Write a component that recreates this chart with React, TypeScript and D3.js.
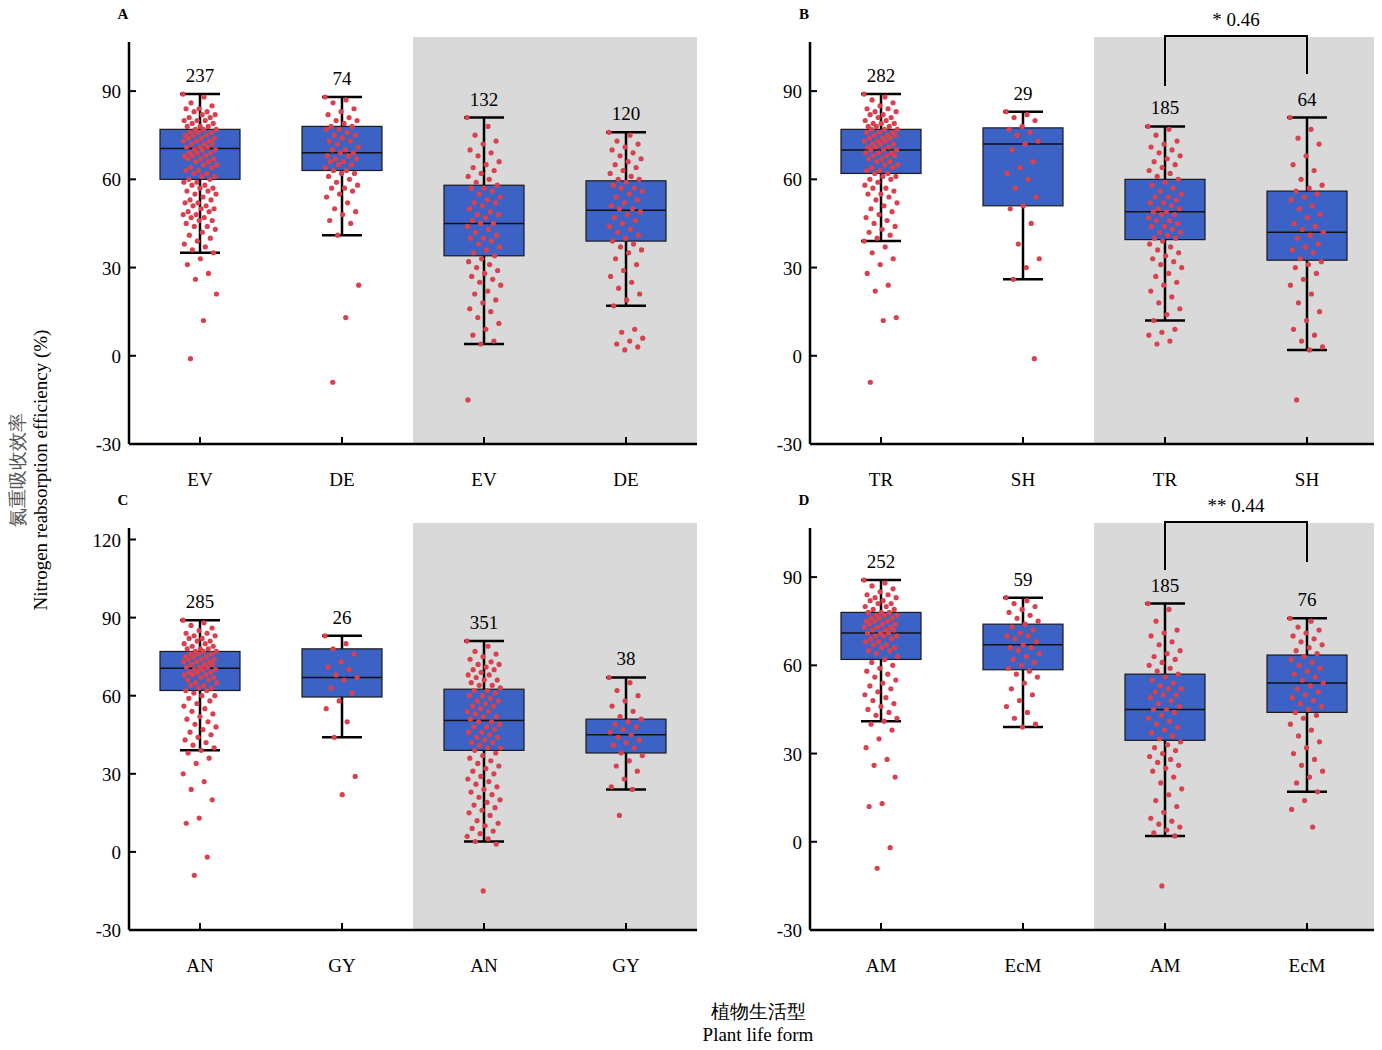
import * as d3 from "d3";

const panelNames = ["A", "B", "C", "D"];
const categoriesA = ["EV", "DE", "EV", "DE"];
const categoriesB = ["TR", "SH", "TR", "SH"];
const categoriesC = ["AN", "GY", "AN", "GY"];
const categoriesD = ["AM", "EcM", "AM", "EcM"];
const countsA = [237, 74, 132, 120];
const countsB = [282, 29, 185, 64];
const countsC = [285, 26, 351, 38];
const countsD = [252, 59, 185, 76];
// [low whisker, q1, median, q3, high whisker]
const boxesA = [[35, 60, 70.5, 77, 89], [41, 63, 69, 78, 88], [4, 34, 45, 58, 81], [17, 39, 49.5, 59.5, 76]];
const boxesB = [[39, 62, 70, 77, 89], [26, 51, 72, 77.5, 83], [12, 39.5, 49, 60, 78], [2, 32.5, 42, 56, 81]];
const boxesC = [[39, 62, 70.5, 77, 89], [44, 59.5, 67, 78, 83], [4, 39, 50.5, 62.5, 81], [24, 38, 45, 51, 67]];
const boxesD = [[41, 62, 71, 78, 89], [39, 58.5, 67, 74, 83], [2, 34.5, 45, 57, 81], [17, 44, 54, 63.5, 76]];

const ptsA = [
  [89, 88, 86, 85, 84, 84, 83, 83, 82, 82, 81, 81, 80, 80, 80, 79, 79, 78, 78, 78, 77, 77, 77, 76, 76, 76, 75, 75, 75, 74, 74, 74, 73, 73, 73, 72, 72, 72, 71, 71, 71, 70, 70, 70, 69, 69, 69, 68, 68, 68, 67, 67, 67, 66, 66, 65, 65, 64, 64, 63, 63, 62, 62, 61, 61, 60, 60, 59, 59, 58, 58, 57, 57, 56, 56, 55, 55, 54, 53, 53, 52, 52, 51, 51, 50, 50, 49, 49, 48, 48, 47, 47, 46, 46, 45, 44, 44, 43, 42, 41, 40, 39, 38, 37, 36, 35, 33, 31, 28, 26, 21, 12, -1],
  [88, 87, 86, 84, 83, 82, 81, 80, 80, 79, 78, 78, 77, 77, 76, 75, 75, 74, 73, 73, 72, 71, 70, 70, 69, 69, 68, 68, 67, 67, 66, 66, 65, 65, 64, 63, 63, 62, 62, 61, 60, 59, 58, 57, 57, 56, 55, 54, 52, 50, 49, 48, 46, 45, 41, 24, 13, -9],
  [81, 78, 75, 73, 72, 70, 69, 68, 66, 65, 64, 63, 62, 61, 60, 59, 58, 57, 57, 56, 55, 54, 53, 52, 52, 51, 50, 49, 48, 48, 47, 46, 45, 45, 44, 43, 42, 41, 40, 40, 39, 38, 37, 36, 35, 34, 33, 32, 31, 30, 29, 28, 27, 26, 25, 24, 22, 21, 19, 18, 16, 15, 13, 11, 9, 7, 5, 4, -15],
  [76, 75, 73, 72, 71, 70, 69, 68, 67, 66, 65, 64, 63, 62, 61, 60, 60, 59, 58, 57, 57, 56, 55, 54, 53, 52, 51, 50, 50, 49, 48, 47, 46, 45, 44, 43, 42, 41, 40, 39, 38, 37, 36, 35, 33, 31, 29, 27, 25, 23, 21, 19, 17, 9, 8, 6, 5, 4, 3, 2],
];
const ptsB = [
  [89, 88, 87, 86, 85, 84, 84, 83, 83, 82, 82, 81, 81, 80, 80, 79, 79, 79, 78, 78, 78, 77, 77, 77, 76, 76, 76, 75, 75, 75, 74, 74, 74, 73, 73, 73, 72, 72, 72, 71, 71, 71, 70, 70, 70, 69, 69, 69, 68, 68, 68, 67, 67, 66, 66, 65, 65, 64, 64, 63, 63, 62, 62, 61, 61, 60, 60, 59, 58, 57, 57, 56, 55, 55, 54, 53, 52, 51, 50, 49, 48, 47, 46, 45, 44, 43, 42, 41, 40, 39, 37, 35, 33, 31, 28, 24, 22, 13, 12, -9],
  [83, 82, 81, 80, 78, 77, 76, 75, 73, 72, 70, 66, 64, 62, 60, 57, 54, 51, 50, 45, 38, 33, 30, 26, -1],
  [78, 77, 75, 73, 72, 71, 70, 69, 68, 67, 66, 65, 64, 63, 62, 61, 60, 59, 58, 57, 56, 55, 54, 54, 53, 52, 52, 51, 50, 50, 49, 49, 48, 48, 47, 46, 46, 45, 44, 44, 43, 42, 42, 41, 40, 40, 39, 38, 37, 36, 35, 34, 33, 32, 31, 30, 28, 27, 25, 24, 22, 20, 18, 16, 14, 12, 9, 8, 7, 5, 4],
  [81, 77, 74, 72, 68, 65, 63, 60, 58, 57, 56, 55, 54, 53, 51, 50, 48, 47, 45, 44, 43, 42, 41, 40, 38, 37, 36, 35, 33, 32, 31, 30, 28, 26, 24, 21, 18, 15, 12, 9, 7, 5, 3, 2, -15],
];
const ptsC = [
  [89, 88, 87, 86, 85, 84, 84, 83, 83, 82, 82, 81, 81, 80, 80, 79, 79, 78, 78, 78, 77, 77, 77, 76, 76, 76, 75, 75, 75, 74, 74, 74, 73, 73, 73, 72, 72, 72, 71, 71, 71, 70, 70, 70, 69, 69, 69, 68, 68, 68, 67, 67, 66, 66, 65, 65, 64, 64, 63, 63, 62, 62, 61, 60, 60, 59, 58, 57, 56, 55, 54, 53, 52, 51, 50, 49, 48, 47, 46, 45, 44, 43, 42, 41, 40, 39, 38, 36, 34, 30, 27, 24, 20, 13, 11, -2, -9],
  [83, 80, 78, 76, 73, 71, 70, 68, 67, 66, 63, 61, 58, 55, 50, 44, 29, 22],
  [81, 79, 77, 76, 75, 74, 73, 72, 72, 71, 70, 70, 69, 68, 68, 67, 66, 66, 65, 64, 64, 63, 62, 62, 61, 60, 60, 59, 58, 58, 57, 56, 56, 55, 54, 54, 53, 52, 52, 51, 50, 50, 49, 48, 48, 47, 46, 46, 45, 44, 44, 43, 42, 42, 41, 40, 40, 39, 38, 37, 36, 35, 34, 33, 32, 31, 30, 29, 28, 27, 26, 25, 24, 23, 22, 21, 20, 19, 18, 17, 16, 15, 14, 12, 11, 10, 9, 8, 7, 6, 5, 4, 3, -15],
  [67, 65, 62, 60, 58, 56, 54, 52, 51, 50, 49, 48, 47, 46, 45, 44, 43, 42, 41, 40, 38, 37, 35, 33, 31, 28, 25, 24, 14],
];
const ptsD = [
  [89, 88, 87, 86, 85, 84, 84, 83, 83, 82, 82, 81, 81, 80, 80, 79, 79, 78, 78, 78, 77, 77, 77, 76, 76, 76, 75, 75, 75, 74, 74, 74, 73, 73, 73, 72, 72, 72, 71, 71, 71, 70, 70, 70, 69, 69, 68, 68, 67, 67, 66, 66, 65, 65, 64, 63, 62, 61, 60, 59, 58, 57, 56, 55, 54, 53, 52, 51, 50, 49, 48, 47, 46, 45, 44, 43, 42, 41, 40, 38, 35, 32, 28, 26, 22, 13, 12, -2, -9],
  [83, 82, 81, 80, 79, 78, 77, 76, 75, 74, 73, 72, 71, 70, 70, 69, 68, 67, 66, 66, 65, 64, 63, 62, 61, 60, 59, 58, 57, 56, 54, 52, 50, 48, 46, 44, 42, 40, 39],
  [81, 79, 75, 72, 71, 70, 68, 67, 65, 64, 63, 62, 61, 60, 59, 58, 57, 56, 55, 54, 53, 52, 52, 51, 50, 50, 49, 48, 47, 46, 45, 45, 44, 43, 42, 41, 40, 39, 38, 37, 36, 35, 34, 33, 32, 31, 30, 29, 28, 27, 26, 25, 24, 22, 20, 18, 16, 14, 12, 10, 8, 7, 6, 5, 4, 3, 2, -15],
  [76, 75, 73, 72, 71, 70, 69, 68, 67, 66, 65, 64, 63, 62, 61, 60, 59, 58, 57, 56, 55, 54, 53, 52, 51, 50, 49, 48, 47, 46, 45, 44, 43, 42, 40, 38, 36, 34, 32, 30, 28, 26, 24, 22, 20, 17, 14, 11, 5],
];

const yTicks = [-30, 0, 30, 60, 90];
const yTicksC = [-30, 0, 30, 60, 90, 120];

const FONT = "'Liberation Serif', 'Times New Roman', serif";

function Panel({ ox, oy, name, cats, counts, boxes, pts, ticks, yMax, bracket }) {
  const w = 568;
  const h = 402;
  const x = d3.scaleBand().domain(d3.range(4)).range([0, w]);
  const y = d3.scaleLinear().domain([-30, yMax]).range([h, 5]);
  const bw = 80;
  const cap = 40;
  return (
    <g transform={`translate(${ox},${oy})`} fontFamily={FONT}>
      <rect x={x(2)} y={-5} width={w - x(2)} height={h + 5} fill="#d9d9d9" />
      <text x={-6} y={-23} fontSize={15} fontWeight="bold" textAnchor="middle">{name}</text>
      {boxes.map((b, i) => {
        const cx = x(i) + x.bandwidth() / 2;
        return (
          <g key={i}>
            <line x1={cx} x2={cx} y1={y(b[0])} y2={y(b[4])} stroke="#000" strokeWidth={2.5} />
            <line x1={cx - cap / 2} x2={cx + cap / 2} y1={y(b[0])} y2={y(b[0])} stroke="#000" strokeWidth={2.5} />
            <line x1={cx - cap / 2} x2={cx + cap / 2} y1={y(b[4])} y2={y(b[4])} stroke="#000" strokeWidth={2.5} />
            <rect x={cx - bw / 2} y={y(b[3])} width={bw} height={y(b[1]) - y(b[3])} fill="#3b62c4" stroke="#1a1a1a" strokeWidth={1.2} />
            <line x1={cx - bw / 2} x2={cx + bw / 2} y1={y(b[2])} y2={y(b[2])} stroke="#111" strokeWidth={1.5} />
            {pts[i].map((v, j) => {
              const jit = (((j * 0.618034) % 1) - 0.5) * 34;
              return <circle key={j} cx={cx + jit} cy={y(v)} r={2.6} fill="#d9414f" />;
            })}
            <text x={cx} y={y(b[4]) - 12} fontSize={19} textAnchor="middle">{counts[i]}</text>
            <text x={cx} y={h + 42} fontSize={19} textAnchor="middle">{cats[i]}</text>
            <line x1={cx} x2={cx} y1={h} y2={h - 7} stroke="#000" strokeWidth={2} />
          </g>
        );
      })}
      <line x1={0} x2={0} y1={0} y2={h} stroke="#000" strokeWidth={2.5} />
      <line x1={0} x2={w} y1={h} y2={h} stroke="#000" strokeWidth={2.5} />
      {ticks.map((t) => (
        <g key={t}>
          <line x1={0} x2={7} y1={y(t)} y2={y(t)} stroke="#000" strokeWidth={2} />
          <text x={-8} y={y(t) + 7} fontSize={19} textAnchor="end">{t}</text>
        </g>
      ))}
      {bracket && (() => {
        const x1 = x(2) + x.bandwidth() / 2;
        const x2 = x(3) + x.bandwidth() / 2;
        const top = -6;
        return (
          <g>
            <path d={`M${x1},${top + bracket.dl} V${top} H${x2} V${top + bracket.dr}`} fill="none" stroke="#000" strokeWidth={2} />
            <text x={(x1 + x2) / 2} y={top - 10} fontSize={19} textAnchor="middle">{bracket.label}</text>
          </g>
        );
      })()}
    </g>
  );
}

export default function App() {
  return (
    <svg width={1382} height={1050} style={{ display: "block", margin: -8 }}>
      <rect width={1382} height={1050} fill="#fff" />
      <Panel ox={129} oy={42} name={panelNames[0]} cats={categoriesA} counts={countsA} boxes={boxesA} pts={ptsA} ticks={yTicks} yMax={105} />
      <Panel ox={810} oy={42} name={panelNames[1]} cats={categoriesB} counts={countsB} boxes={boxesB} pts={ptsB} ticks={yTicks} yMax={105} bracket={{ label: "*  0.46", dl: 50, dr: 38 }} />
      <Panel ox={129} oy={528} name={panelNames[2]} cats={categoriesC} counts={countsC} boxes={boxesC} pts={ptsC} ticks={yTicksC} yMax={122.5} />
      <Panel ox={810} oy={528} name={panelNames[3]} cats={categoriesD} counts={countsD} boxes={boxesD} pts={ptsD} ticks={yTicks} yMax={105} bracket={{ label: "**  0.44", dl: 48, dr: 40 }} />
      <g fontFamily={FONT} fontSize={19}>
        <text transform="translate(24,470) rotate(-90)" textAnchor="middle" fill="#555">氮重吸收效率</text>
        <text transform="translate(47,470) rotate(-90)" textAnchor="middle">Nitrogen reabsorption efficiency (%)</text>
        <text x={758} y={1018} textAnchor="middle">植物生活型</text>
        <text x={758} y={1041} textAnchor="middle">Plant life form</text>
      </g>
    </svg>
  );
}
